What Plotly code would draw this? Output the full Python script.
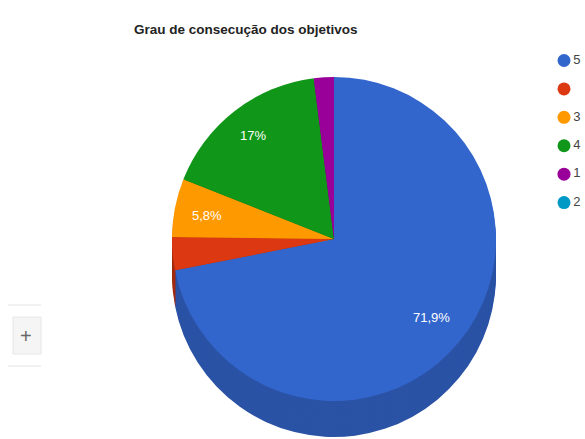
import plotly.graph_objects as go

title = "Grau de consecução dos objetivos"
legend_labels = ["5", " ", "3", "4", "1", "2"]
values = [71.9, 3.3, 5.8, 17, 2, 0]
slice_text = ["71,9%", "", "5,8%", "17%", "", ""]
colors = ["#3366cc", "#dc3912", "#ff9900", "#109618", "#990099", "#0099c6"]
side_colors = ["#2a52a5", "#a32a0d", "#bf7300", "#0c7012", "#720072", "#007394"]

W, H = 585, 439
R = 162
CX, CY = 334, 239
DEPTH = 36
# pixel spots of the on-slice labels, as placed in the reference
label_spots = {"71,9%": (431, 317), "5,8%": (207, 215), "17%": (253, 135)}

def dom(cy):
    return dict(x=[(CX - R) / W, (CX + R) / W], y=[1 - (cy + R) / H, 1 - (cy - R) / H])

fig = go.Figure()
for off in range(DEPTH, 0, -3):
    fig.add_trace(go.Pie(values=values, labels=legend_labels, sort=False, direction="clockwise",
                         rotation=0, textinfo="none", hoverinfo="skip", showlegend=False,
                         marker=dict(colors=side_colors, line=dict(width=0)), domain=dom(CY + off)))
fig.add_trace(go.Pie(values=values, labels=legend_labels, sort=False, direction="clockwise",
                     rotation=0, textinfo="none", showlegend=False,
                     marker=dict(colors=colors, line=dict(width=0)), domain=dom(CY)))

# legend: dots with labels on an own hidden axis
fig.add_trace(go.Scatter(x=[0] * len(legend_labels), y=list(range(len(legend_labels))),
                         mode="markers+text", text=legend_labels, textposition="middle right",
                         textfont=dict(size=13, color="#444444", family="Liberation Sans"),
                         marker=dict(color=colors, size=13), cliponaxis=False,
                         showlegend=False, hoverinfo="skip"))

shapes = [
    dict(type="line", xref="paper", yref="paper", x0=8 / W, x1=41 / W, y0=1 - 305 / H, y1=1 - 305 / H,
         line=dict(color="#e4e4e4", width=1)),
    dict(type="line", xref="paper", yref="paper", x0=8 / W, x1=41 / W, y0=1 - 366 / H, y1=1 - 366 / H,
         line=dict(color="#e4e4e4", width=1)),
    dict(type="rect", xref="paper", yref="paper", x0=13 / W, x1=41 / W, y0=1 - 354 / H, y1=1 - 317 / H,
         line=dict(color="#e6e6e6", width=1), fillcolor="#f5f5f5"),
]

annotations = [
    dict(text="<b>" + title + "</b>", xref="paper", yref="paper", x=246 / W, y=1 - 29 / H,
         showarrow=False, xanchor="center", yanchor="middle",
         font=dict(size=13.5, color="#222222", family="Liberation Sans")),
    dict(text="+", xref="paper", yref="paper", x=26 / W, y=1 - 336 / H, showarrow=False,
         xanchor="center", yanchor="middle", font=dict(size=20, color="#666666", family="Liberation Sans")),
]
for t in slice_text:
    if t:
        px, py = label_spots[t]
        annotations.append(dict(text=t, xref="paper", yref="paper", x=px / W, y=1 - py / H,
                                showarrow=False, xanchor="center", yanchor="middle",
                                font=dict(size=13, color="white", family="Liberation Sans")))

fig.update_layout(
    width=W, height=H, margin=dict(l=0, r=0, t=0, b=0), paper_bgcolor="white", plot_bgcolor="white",
    showlegend=False, shapes=shapes, annotations=annotations,
    xaxis=dict(visible=False, range=[-564, 21], fixedrange=True),
    yaxis=dict(visible=False, range=[13.32, -2.13], fixedrange=True),
)
fig.write_html("out.html", config=dict(displayModeBar=False),
               post_script="document.body.style.margin='0';document.body.style.overflow='hidden';")
